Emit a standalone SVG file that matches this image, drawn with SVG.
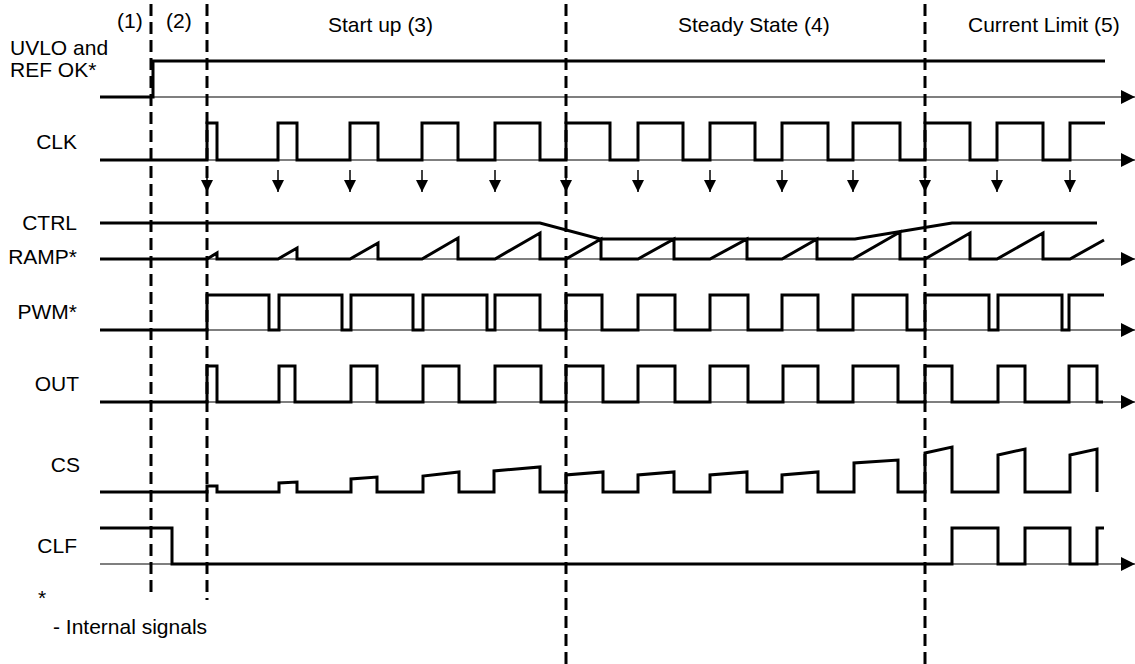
<svg xmlns="http://www.w3.org/2000/svg" width="1135" height="664" viewBox="0 0 1135 664">
<defs>
<style>
text{font-family:"Liberation Sans",Arial,sans-serif;font-size:21px;fill:#000}
.lbl{text-anchor:end}
.sig{fill:none;stroke:#000;stroke-width:3;stroke-linejoin:miter;stroke-linecap:butt}
.axis{fill:none;stroke:#000;stroke-width:1.2;marker-end:url(#axArrow)}
.dash{fill:none;stroke:#000;stroke-width:3;stroke-dasharray:12 6}
.clkarrow{fill:none;stroke:#000;stroke-width:1.5;marker-end:url(#downArrow)}
</style>
<marker id="axArrow" markerUnits="userSpaceOnUse" markerWidth="14" markerHeight="14" refX="14" refY="7" orient="auto"><path d="M0,0 L14,7 L0,14 z" fill="#000"/></marker>
<marker id="downArrow" markerUnits="userSpaceOnUse" markerWidth="12" markerHeight="12" refX="12" refY="6" orient="auto"><path d="M0,0 L12,6 L0,12 z" fill="#000"/></marker>
</defs>
<rect width="1135" height="664" fill="#fff"/>

<g id="phase-labels">
<text x="117" y="28">(1)</text>
<text x="166" y="28">(2)</text>
<text x="328" y="32">Start up (3)</text>
<text x="678" y="32">Steady State (4)</text>
<text x="968" y="32">Current Limit (5)</text>
</g>

<g id="connectors">
<line class="dash" x1="151" y1="4" x2="151" y2="597"/>
<line class="dash" x1="207" y1="4" x2="207" y2="600"/>
<line class="dash" x1="566" y1="4" x2="566" y2="664"/>
<line class="dash" x1="925" y1="4" x2="925" y2="664"/>
<g id="clk-arrows">
<line class="clkarrow" x1="207" y1="170" x2="207" y2="192"/>
<line class="clkarrow" x1="278" y1="170" x2="278" y2="192"/>
<line class="clkarrow" x1="350" y1="170" x2="350" y2="192"/>
<line class="clkarrow" x1="422" y1="170" x2="422" y2="192"/>
<line class="clkarrow" x1="495" y1="170" x2="495" y2="192"/>
<line class="clkarrow" x1="566" y1="170" x2="566" y2="192"/>
<line class="clkarrow" x1="638" y1="170" x2="638" y2="192"/>
<line class="clkarrow" x1="710" y1="170" x2="710" y2="192"/>
<line class="clkarrow" x1="782" y1="170" x2="782" y2="192"/>
<line class="clkarrow" x1="853" y1="170" x2="853" y2="192"/>
<line class="clkarrow" x1="925" y1="170" x2="925" y2="192"/>
<line class="clkarrow" x1="997" y1="170" x2="997" y2="192"/>
<line class="clkarrow" x1="1070" y1="170" x2="1070" y2="192"/>
</g>
</g>

<g id="uvlo">
<text x="10" y="55">UVLO and</text>
<text x="10" y="77">REF OK*</text>
<line class="axis" x1="100" y1="97" x2="1135" y2="97"/>
<path class="sig" d="M100,97 H153 V61 H1105"/>
</g>

<g id="clk">
<text class="lbl" x="77" y="149">CLK</text>
<line class="axis" x1="100" y1="160" x2="1135" y2="160"/>
<path class="sig" d="M100,160 H207 V123 H217 V160 H278 V123 H297 V160 H350 V123 H378 V160 H422 V123 H458 V160 H495 V123 H540 V160 H566 V123 H610 V160 H638 V123 H683 V160 H710 V123 H755 V160 H782 V123 H828 V160 H853 V123 H900 V160 H925 V123 H970 V160 H997 V123 H1043 V160 H1070 V123 H1105"/>
</g>

<g id="ctrl">
<text class="lbl" x="77" y="230">CTRL</text>
<path class="sig" d="M100,223 H540 L600,239 H855 L952,223 H1097"/>
</g>

<g id="ramp">
<text class="lbl" x="77" y="264">RAMP*</text>
<line class="axis" x1="100" y1="259" x2="1135" y2="259"/>
<path class="sig" d="M100,259 H207 L217,253 V259 H278 L297,248 V259 H350 L378,243 V259 H422 L458,238 V259 H495 L540,233 V259 H566 L601,239 V259 H638 L674,239 V259 H710 L747,239 V259 H782 L817,239 V259 H853 L900,232 V259 H925 L970,233 V259 H997 L1043,233 V259 H1070 L1104,240"/>
</g>

<g id="pwm">
<text class="lbl" x="77" y="319">PWM*</text>
<line class="axis" x1="100" y1="330" x2="1135" y2="330"/>
<path class="sig" d="M100,330 H207 V295 H269 V330 H279 V295 H342 V330 H351 V295 H413 V330 H423 V295 H487 V330 H495 V295 H540 V330 H566 V295 H602 V330 H638 V295 H675 V330 H710 V295 H748 V330 H782 V295 H818 V330 H853 V295 H907 V330 H925 V295 H989 V330 H998 V295 H1062 V330 H1069 V295 H1104"/>
</g>

<g id="out">
<text class="lbl" x="79" y="391">OUT</text>
<line class="axis" x1="100" y1="402" x2="1135" y2="402"/>
<path class="sig" d="M100,402 H207 V366 H217 V402 H279 V366 H295 V402 H351 V366 H377 V402 H423 V366 H459 V402 H495 V366 H541 V402 H566 V366 H603 V402 H638 V366 H675 V402 H710 V366 H748 V402 H783 V366 H818 V402 H853 V366 H898 V402 H925 V366 H952 V402 H998 V366 H1025 V402 H1069 V366 H1097 V402 H1103"/>
</g>

<g id="cs">
<text class="lbl" x="80" y="472">CS</text>
<path class="sig" d="M100,492 H207 V486 L217,486 V492 H279 V483 L297,482 V492 H351 V479 L377,477 V492 H423 V476 L459,472 V492 H494 V471 L540,467 V492 H566 V475 L603,472 V492 H638 V475 L674,472 V492 H710 V475 L747,472 V492 H782 V475 L818,472 V492 H854 V463 L898,460 V492 H925 V453 L952,447 V492 H998 V455 L1025,449 V492 H1070 V455 L1097,449 V492"/>
</g>

<g id="clf">
<text class="lbl" x="77" y="553">CLF</text>
<line class="axis" x1="100" y1="564" x2="1135" y2="564"/>
<path class="sig" d="M100,528 H172 V564 H952 V528 H998 V564 H1025 V528 H1070 V564 H1097 V528 H1104"/>
</g>

<g id="legend">
<text x="38" y="605">*</text>
<text x="53" y="634">- Internal signals</text>
</g>
</svg>
